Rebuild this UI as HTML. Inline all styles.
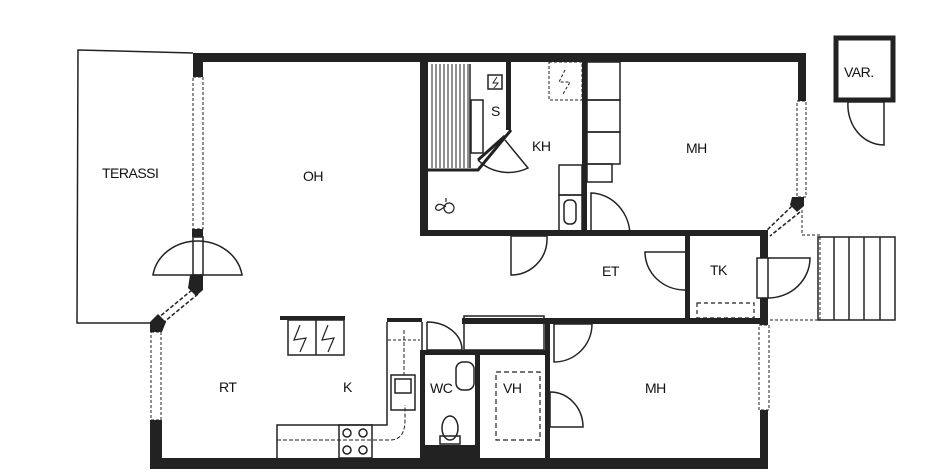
<!DOCTYPE html>
<html><head><meta charset="utf-8"><style>
html,body{margin:0;padding:0;background:#fff;}
svg{display:block}
text{font-family:"Liberation Sans",sans-serif;font-size:14px;fill:#111;letter-spacing:-0.5px}
</style></head><body>
<svg width="946" height="475" viewBox="0 0 946 475" xmlns="http://www.w3.org/2000/svg">
<g fill="#222" stroke="none">
<rect x="193" y="53" width="613" height="9"/>
<rect x="193" y="53" width="10" height="24"/>
<rect x="192" y="229" width="11" height="8"/>
<polygon points="190,275 203,275 203,290 196,296 188,288"/>
<polygon points="150,322 158,314 166,322 162,332 150,332"/>
<rect x="150" y="420" width="12" height="48"/>
<rect x="150" y="458" width="618" height="11"/>
<rect x="420" y="62" width="8" height="174"/>
<rect x="420" y="230" width="348" height="6"/>
<rect x="582" y="62" width="5" height="174"/>
<rect x="506" y="62" width="5" height="68"/>
<rect x="798" y="53" width="8" height="48"/>
<polygon points="792,197 804,197 804,206 797,212 790,205"/>
<rect x="760" y="230" width="8" height="28"/>
<rect x="760" y="298" width="8" height="27"/>
<rect x="760" y="410" width="8" height="58"/>
<rect x="685" y="236" width="5" height="84"/>
<rect x="462" y="318" width="306" height="6"/>
<rect x="545" y="318" width="5" height="140"/>
<rect x="422" y="350" width="123" height="5"/>
<rect x="420" y="350" width="5" height="108"/>
<rect x="475" y="355" width="5" height="103"/>
<rect x="420" y="445" width="58" height="13"/>
<rect x="387" y="318" width="35" height="4"/>
<rect x="280" y="316" width="65" height="4"/>
</g>
<g fill="none" stroke="#222" stroke-width="1.5">
<polyline points="193,53 78,50 77,323 150,323"/>
<rect x="193" y="77" width="10" height="152" stroke-dasharray="3,2" stroke-width="1"/>
<rect x="193" y="237" width="10" height="38"/>
<path d="M153,275 A45,40 0 0 1 242,275 Z"/>
<line x1="192" y1="290" x2="158" y2="318" stroke-dasharray="4,2"/>
<line x1="198" y1="294" x2="164" y2="322" stroke-dasharray="4,2"/>
<rect x="151" y="332" width="10" height="88" stroke-dasharray="3,2" stroke-width="1"/>
<rect x="288" y="320" width="56" height="35"/>
<line x1="316" y1="320" x2="316" y2="355"/>
<path d="M300,325 L294,340 L306,338 L300,352 M328,325 L322,340 L334,338 L328,352" stroke-width="1.2"/>
<polyline points="387,322 387,425 277,425 277,458"/>
<line x1="422" y1="322" x2="422" y2="458"/>
<rect x="339" y="425" width="33" height="33"/>
<circle cx="347" cy="433" r="4"/><circle cx="363" cy="433" r="4"/>
<circle cx="347" cy="450" r="4"/><circle cx="363" cy="450" r="4"/>
<path d="M277,440 L390,440 Q405,440 405,420 L405,405" stroke-dasharray="4,2" stroke-width="1"/>
<rect x="391" y="375" width="24" height="35"/>
<rect x="395" y="379" width="16" height="14"/>
<line x1="404" y1="330" x2="404" y2="375" stroke-dasharray="4,2" stroke-width="1"/>
<line x1="388" y1="340" x2="420" y2="340" stroke-dasharray="3,2" stroke-width="1"/>
<path d="M427,322 L427,350 L462,350 A35,28 0 0 0 427,322"/>
<rect x="456" y="362" width="18" height="28" rx="7"/>
<ellipse cx="450" cy="428" rx="8" ry="12"/>
<rect x="440" y="436" width="20" height="8"/>
<rect x="464" y="316" width="80" height="34"/>
<rect x="496" y="372" width="44" height="68" stroke-dasharray="5,3" stroke-width="1.2"/>
<path d="M554,324 L554,362 A38,38 0 0 0 592,324 Z"/>
<path d="M550,392 L550,427 L583,427 A33,35 0 0 0 550,392"/>
<rect x="759" y="325" width="10" height="85" stroke-dasharray="3,2" stroke-width="1"/>
<path d="M685,252 L645,252 A40,38 0 0 0 685,290"/>
<rect x="697" y="303" width="57" height="15" stroke-dasharray="4,3" stroke-width="1.2"/>
<path d="M757,258 L768,258 L768,298 L757,298 Z"/>
<path d="M768,258 L810,258 A42,40 0 0 1 768,298"/>
<path d="M511,236 L547,236 L547,240 A36,36 0 0 1 511,275 Z"/>
<path d="M591,236 L591,193 A40,43 0 0 1 630,236"/>
<polyline points="511,130 478,170 428,170" stroke-width="3"/>
<g stroke-width="1">
<line x1="432" y1="64" x2="432" y2="168"/><line x1="436" y1="64" x2="436" y2="168"/><line x1="440" y1="64" x2="440" y2="168"/><line x1="444" y1="64" x2="444" y2="168"/><line x1="448" y1="64" x2="448" y2="168"/><line x1="452" y1="64" x2="452" y2="168"/><line x1="456" y1="64" x2="456" y2="168"/><line x1="460" y1="64" x2="460" y2="168"/><line x1="464" y1="64" x2="464" y2="168"/><line x1="468" y1="64" x2="468" y2="168"/>
</g>
<line x1="470" y1="64" x2="470" y2="168"/>
<rect x="471" y="100" width="12" height="53"/>
<rect x="488" y="75" width="14" height="14"/>
<path d="M497,77 L493,83 L498,83 L494,88" stroke-width="1"/>
<path d="M478,160 A40,35 0 0 0 528,168 L505,140"/>
<line x1="478" y1="160" x2="505" y2="136" stroke-width="3"/>
<g stroke-width="1.2">
<path d="M444,206 C436,200 432,212 440,210 L446,206"/>
<circle cx="449" cy="208" r="5"/>
<line x1="446" y1="202" x2="446" y2="198"/>
</g>
<rect x="549" y="62" width="33" height="38" stroke-dasharray="3,2" stroke-width="1"/>
<path d="M565,70 L559,82 L570,82 L563,94" stroke-width="1" stroke-dasharray="3,2"/>
<rect x="559" y="165" width="23" height="30"/>
<rect x="559" y="195" width="23" height="36"/>
<rect x="564" y="200" width="12" height="24" rx="5"/>
<rect x="587" y="62" width="33" height="38"/>
<rect x="587" y="100" width="33" height="32"/>
<rect x="587" y="132" width="33" height="32"/>
<rect x="587" y="164" width="25" height="18"/>
<rect x="797" y="101" width="9" height="96" stroke-dasharray="3,2" stroke-width="1"/>
<line x1="792" y1="206" x2="765" y2="232" stroke-dasharray="4,2"/>
<line x1="800" y1="212" x2="770" y2="236" stroke-dasharray="4,2"/>
<path d="M802,210 L802,235 L820,235 L820,320 L768,320" stroke-dasharray="3,2" stroke-width="1"/>
<rect x="818" y="237" width="77" height="83"/>
<line x1="834" y1="237" x2="834" y2="320"/><line x1="849" y1="237" x2="849" y2="320"/><line x1="864" y1="237" x2="864" y2="320"/><line x1="880" y1="237" x2="880" y2="320"/>
<rect x="836" y="38" width="57" height="62" stroke-width="5"/>
<path d="M848,102 L884,102 L884,145 A36,40 0 0 1 848,102" stroke-width="1.5"/>
</g>
<g>
<text x="102" y="178">TERASSI</text>
<text x="303" y="181">OH</text>
<text x="491" y="116">S</text>
<text x="532" y="151">KH</text>
<text x="686" y="153">MH</text>
<text x="602" y="276">ET</text>
<text x="710" y="275">TK</text>
<text x="844" y="77">VAR.</text>
<text x="219" y="392">RT</text>
<text x="343" y="392">K</text>
<text x="430" y="393">WC</text>
<text x="503" y="393">VH</text>
<text x="645" y="393">MH</text>
</g>
</svg>
</body></html>
